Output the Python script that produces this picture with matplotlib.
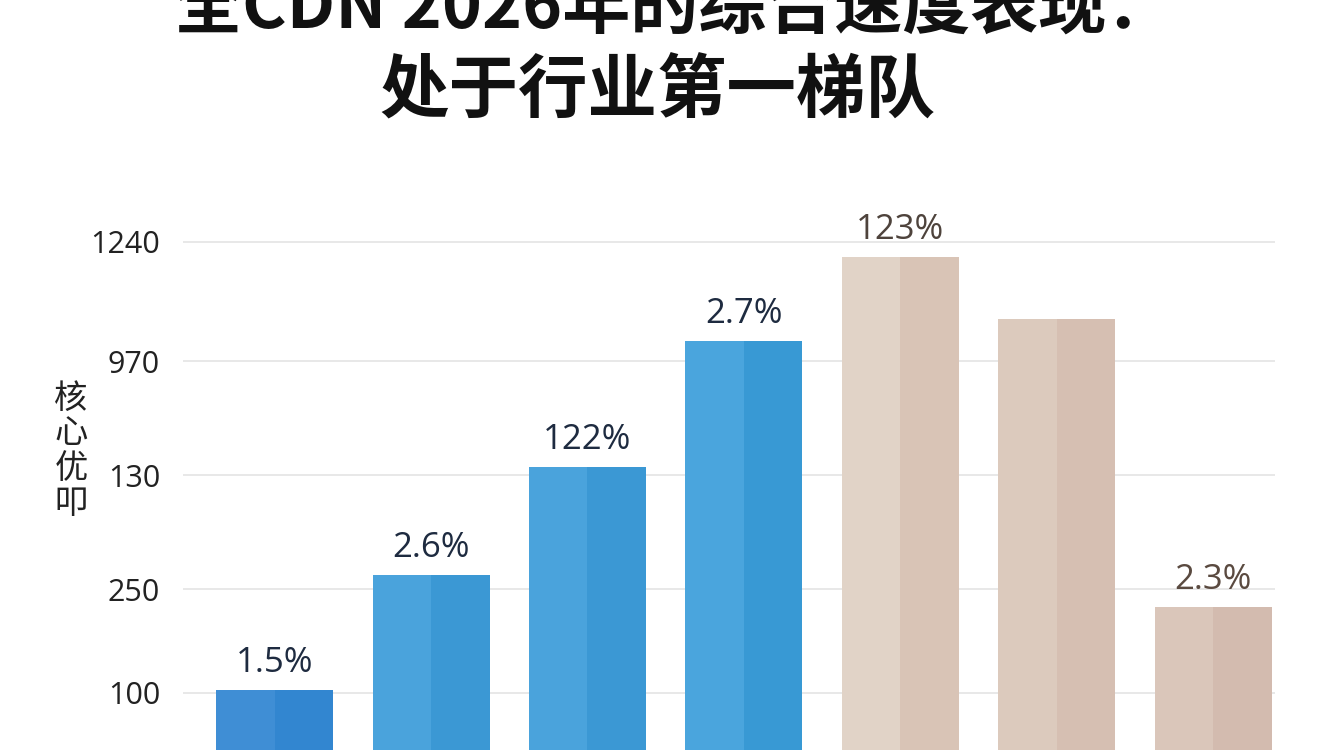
import numpy as np
import matplotlib
matplotlib.use("Agg")
import matplotlib.pyplot as plt

plt.rcParams['font.family'] = ['Noto Sans CJK SC', 'DejaVu Sans']

# ---- data ----
title_line1 = "全CDN 2026年的综合速度表现："
title_line2 = "处于行业第一梯队"
ylabel_text = "核心优叩"
tick_labels = ["100", "250", "130", "970", "1240"]
tick_pos = [1.0, 1.92, 2.93, 3.94, 5.0]          # gridline positions on the axis scale
bar_values = [1.03, 2.05, 3.00, 4.12, 4.87, 4.32, 1.76]
bar_labels = ["1.5%", "2.6%", "122%", "2.7%", "123%", "", "2.3%"]
left_colors = ["#3F8ED5", "#4AA3DC", "#4AA3DC", "#4AA5DD",
               "#E1D3C7", "#DCCABD", "#DAC6BA"]
right_colors = ["#3286D0", "#3B98D4", "#3B98D4", "#3899D4",
                "#D9C4B6", "#D6BFB2", "#D3BBAF"]
label_colors = ["#1E2B40", "#1E2B40", "#1E2B40", "#1E2B40",
                "#4E433C", "#4E433C", "#5A4A40"]

fig = plt.figure(figsize=(13.44, 7.5), dpi=100)
fig.patch.set_facecolor("white")

ax = fig.add_axes([183/1344, 0, 1092/1344, 550/750])
x = np.arange(len(bar_values))
ax.bar(x, bar_values, width=0.748, color=left_colors, zorder=2)
ax.bar(x, bar_values, width=0.374, align='edge', color=right_colors, zorder=2)

for xi, v, lab, c in zip(x, bar_values, bar_labels, label_colors):
    if lab:
        ax.annotate(lab, (xi, v), xytext=(0, 19.5), textcoords='offset points',
                    ha='center', va='center', fontsize=25, color=c,
                    family=['Open Sans', 'DejaVu Sans'])

ax.set_xlim(-0.586, 6.396)
ax.set_ylim(0.4945, 5.372)
ax.set_yticks(tick_pos)
ax.set_yticklabels(tick_labels, fontsize=22, color="#222222",
                   family=['Open Sans', 'DejaVu Sans'])
ax.tick_params(axis='y', length=0, pad=16.5)
ax.set_xticks([])
ax.yaxis.grid(True, color="#E8E8E8", linewidth=1.4)
ax.set_axisbelow(True)
for s in ax.spines.values():
    s.set_visible(False)

fig.text(71/1344, 1 - 451/750, "\n".join(ylabel_text), ha='center', va='center',
         fontsize=24, linespacing=1.0, color="#222222")

fig.text(674/1344, 1 - 8/750, title_line1, ha='center', va='center',
         fontsize=49, fontweight='heavy', color="#111111")
fig.text(657/1344, 1 - 92/750, title_line2, ha='center', va='center',
         fontsize=50, fontweight='heavy', color="#111111")

fig.savefig("out.png", dpi=100)
